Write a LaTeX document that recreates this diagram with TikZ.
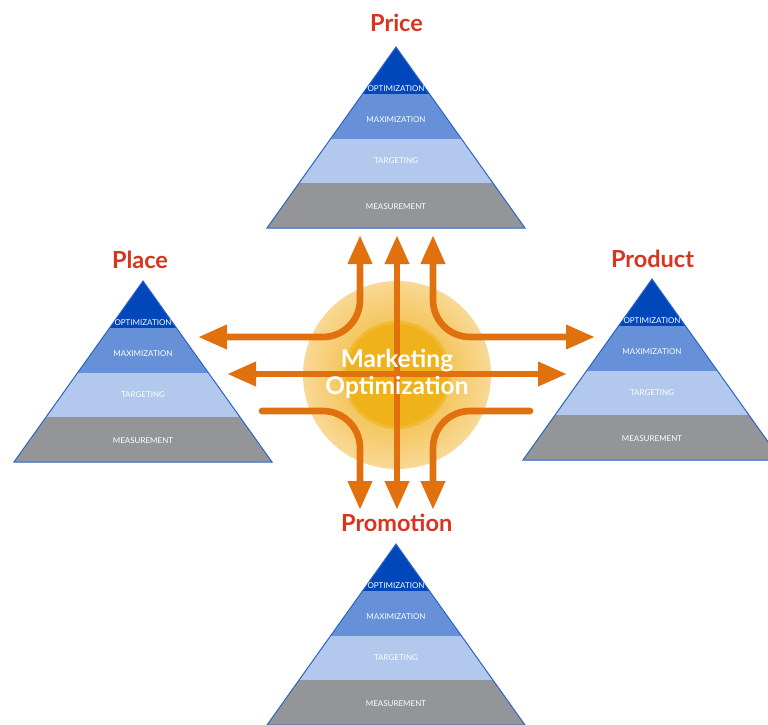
\documentclass[tikz,border=0pt]{standalone}
\usepackage{fontspec}
\setmainfont{Lato}
\usepackage{xcolor}
\usetikzlibrary{arrows.meta}

\definecolor{optblue}{HTML}{0047BB}
\definecolor{maxblue}{HTML}{6690D7}
\definecolor{tgtblue}{HTML}{B2C8EC}
\definecolor{msrgray}{HTML}{939598}
\definecolor{edgeblue}{HTML}{2E63C8}
\definecolor{floworange}{HTML}{E1700E}
\definecolor{titlered}{HTML}{D8351E}
\definecolor{suncore}{HTML}{F0B21A}
\definecolor{sunmid}{HTML}{F4C65C}
\definecolor{sunedge}{HTML}{F8D894}

\begin{document}
\begin{tikzpicture}[x=1pt,y=-1pt,
  flow/.style={draw=floworange, line width=6.7pt, rounded corners=37pt},
  pyredge/.style={draw=edgeblue, line width=1pt},
  band/.style={text=white, font=\fontsize{8}{9}\selectfont, inner sep=0pt},
  titletext/.style={text=titlered, font=\fontsize{23.5}{26}\selectfont\bfseries, inner sep=0pt},
  centertext/.style={text=white, font=\fontsize{24.5}{26.5}\selectfont\bfseries, inner sep=0pt}]
  \tikzset{>={Triangle[length=29pt,width=23pt]}}

  \useasboundingbox (0,0) rectangle (768,724);
  \clip (0,0) rectangle (768,724);

  % Draw the four pyramids
  \foreach \pyr/\ax/\ay/\title/\tx/\ty in {price/396/47/Price/396.5/31.7,
      place/143/281/Place/140/268.3, product/652/279/Product/652.5/267.3,
      promotion/396/544/Promotion/396.7/531.7}
  {
    \coordinate (\pyr-apex) at (\ax,\ay);
    \coordinate (\pyr-bl) at (\ax-129,\ay+181);
    \coordinate (\pyr-br) at (\ax+129,\ay+181);
    \begin{scope}
      \clip (\pyr-apex) -- (\pyr-bl) -- (\pyr-br) -- cycle;
      \fill[optblue] (\ax-130,\ay) rectangle (\ax+130,\ay+47);
      \fill[maxblue] (\ax-130,\ay+47) rectangle (\ax+130,\ay+92);
      \fill[tgtblue] (\ax-130,\ay+92) rectangle (\ax+130,\ay+136);
      \fill[msrgray] (\ax-130,\ay+136) rectangle (\ax+130,\ay+182);
    \end{scope}
    \draw[pyredge] (\pyr-apex) -- (\pyr-bl) -- (\pyr-br) -- cycle;
    \node[band] (\pyr-opt) at (\ax,\ay+42) {OPTIMIZATION};
    \node[band] (\pyr-max) at (\ax,\ay+73) {MAXIMIZATION};
    \node[band] (\pyr-tgt) at (\ax,\ay+114) {TARGETING};
    \node[band] (\pyr-msr) at (\ax,\ay+160) {MEASUREMENT};
    \node[titletext, anchor=base] (\pyr-title) at (\tx,\ty) {\title};
  }

  % Sun in the middle
  \coordinate (sun) at (397,375);
  \foreach \r [evaluate=\r as \pct using {(94-\r)*100/40}] in {94,91,...,55}
    \fill[sunmid!\pct!sunedge] (sun) circle (\r);
  \fill[suncore!60!sunmid] (sun) circle (54);
  \fill[suncore] (sun) circle (51);

  % Define flow end points
  \coordinate (tl-top) at (360,235);
  \coordinate (tl-left) at (198,337);
  \coordinate (tr-top) at (433,235);
  \coordinate (tr-right) at (595,337);
  \coordinate (mid-top) at (397,235);
  \coordinate (mid-bot) at (397,510);
  \coordinate (mid-left) at (227,374);
  \coordinate (mid-right) at (567,374);
  \coordinate (bl-left) at (262,411);
  \coordinate (bl-bot) at (360,510);
  \coordinate (br-right) at (530,411);
  \coordinate (br-bot) at (433,510);

  % Draw flows
  \draw[flow, <->] (tl-top) |- (tl-left);
  \draw[flow, <->] (tr-top) |- (tr-right);
  \draw[flow, <->] (mid-top) -- (mid-bot);
  \draw[flow, <->] (mid-left) -- (mid-right);
  \draw[flow, line cap=round, ->] (bl-left) -| (bl-bot);
  \draw[flow, line cap=round, ->] (br-right) -| (br-bot);

  % Add centre text
  \node[centertext, anchor=base] (mkt) at (397,367.7) {Marketing};
  \node[centertext, anchor=base] (opt) at (397,394) {Optimization};
\end{tikzpicture}
\end{document}
